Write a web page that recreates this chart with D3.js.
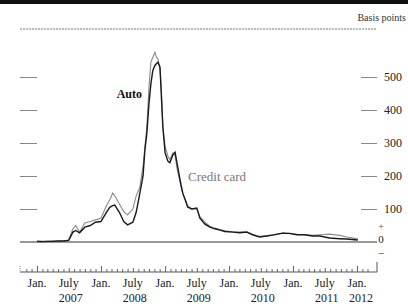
<!DOCTYPE html>
<html>
<head>
<meta charset="utf-8">
<script src="https://cdn.jsdelivr.net/npm/d3@7/dist/d3.min.js"></script>
<style>
  body { margin: 0; background: #fff; }
  svg { display: block; font-family: "Liberation Serif", "DejaVu Serif", serif; }
</style>
</head>
<body>
<svg id="chart" width="408" height="306"></svg>
<script>
// data (basis points)
var dates = ["2007-01-01","2007-02-01","2007-03-01","2007-04-01","2007-05-01","2007-06-01",
  "2007-07-01","2007-07-25","2007-08-10","2007-09-01","2007-10-01","2007-11-01","2007-12-01",
  "2008-01-01","2008-02-01","2008-02-20","2008-03-08","2008-03-20","2008-04-15","2008-05-10",
  "2008-06-01","2008-07-01","2008-07-20","2008-08-10","2008-08-28","2008-09-08","2008-09-19",
  "2008-10-01","2008-10-12","2008-10-23","2008-11-04","2008-11-12","2008-11-21","2008-12-03",
  "2008-12-10","2008-12-19","2009-01-01","2009-01-17","2009-01-28","2009-02-15","2009-02-27",
  "2009-03-13","2009-04-01","2009-04-12","2009-04-28","2009-05-09","2009-06-02","2009-07-01",
  "2009-07-18","2009-08-15","2009-09-13","2009-10-12","2009-11-10","2009-12-08","2010-01-23",
  "2010-03-03","2010-04-12","2010-05-15","2010-06-25","2010-08-03","2010-09-08","2010-11-03",
  "2010-12-13","2011-01-23","2011-03-08","2011-04-23","2011-06-03","2011-07-28","2011-09-25",
  "2011-11-03","2011-12-19","2012-01-06"];
var autoBp = [2,1,2,2,3,3,
  5,30,35,28,45,50,60,
  62,90,105,110,112,90,62,
  52,60,90,148,200,280,330,
  420,480,520,535,540,545,530,
  450,350,270,245,240,265,272,
  230,175,148,125,106,100,103,
  73,55,45,40,36,32,30,
  28,30,22,15,18,21,27,
  26,22,22,18,18,12,10,
  9,7,6];
var creditBp = [3,2,2,3,3,4,
  6,40,50,30,58,62,67,
  72,110,127,148,140,115,92,
  82,100,140,167,230,290,350,
  470,545,560,575,560,555,520,
  470,350,290,260,250,270,260,
  215,170,145,125,110,100,100,
  78,60,48,42,38,34,31,
  30,32,23,17,19,22,27,
  25,23,22,20,22,24,20,
  15,11,9];
var yTicks = [100, 200, 300, 400, 500];
var monthRow = ["Jan.","July","Jan.","July","Jan.","July","Jan.","July","Jan.","July","Jan."];
var monthDates = ["2007-01-01","2007-07-01","2008-01-01","2008-07-01","2009-01-01","2009-07-01",
  "2010-01-01","2010-07-01","2011-01-01","2011-07-01","2012-01-01"];
var yearRow = ["2007","2008","2009","2010","2011","2012"];
var yearDates = ["2007-07-01","2008-07-01","2009-07-01","2010-07-01","2011-07-01","2012-01-01"];

var parse = d3.timeParse("%Y-%m-%d");
var svg = d3.select("#chart");

var x = d3.scaleTime().domain([parse("2007-01-01"), parse("2012-01-01")]).range([37, 357]);
var y = d3.scaleLinear().domain([0, 500]).range([242, 77]);
var left = 20, right = 377;

// top rule
svg.append("rect").attr("x", 0).attr("y", 0).attr("width", 408).attr("height", 4).attr("fill", "#111");
svg.append("text").attr("x", 406).attr("y", 21).attr("text-anchor", "end")
  .attr("font-size", 10).attr("fill", "#333").text("Basis points");
svg.append("line").attr("x1", left).attr("x2", right).attr("y1", 29).attr("y2", 29)
  .attr("stroke", "#777").attr("stroke-dasharray", "2,1");

// left ticks
svg.append("g").attr("transform", "translate(" + left + ",0)")
  .call(d3.axisRight(y).tickValues(yTicks).tickSize(17).tickFormat(""))
  .call(function(g) { g.select(".domain").remove(); g.selectAll("line").attr("stroke", "#888"); });

// right axis
svg.append("g").attr("transform", "translate(" + (right - 16) + ",0)")
  .call(d3.axisRight(y).tickValues(yTicks).tickSize(16).tickPadding(7))
  .call(function(g) {
    g.select(".domain").remove();
    g.selectAll("line").attr("stroke", "#888");
    g.selectAll("text").attr("font-size", 12).attr("fill", "#222").attr("font-family", "Liberation Serif");
  });

// zero line and sign markers
svg.append("line").attr("x1", left).attr("x2", right).attr("y1", y(0)).attr("y2", y(0))
  .attr("stroke", "#333").attr("stroke-width", 1);
var signX = 381;
svg.append("text").attr("x", signX).attr("y", y(0) - 12).attr("text-anchor", "middle")
  .attr("font-size", 10).attr("fill", "#555").text("+");
svg.append("text").attr("x", signX).attr("y", y(0) + 1).attr("text-anchor", "middle")
  .attr("font-size", 11).attr("fill", "#222").text("0");
svg.append("text").attr("x", signX).attr("y", y(0) + 15).attr("text-anchor", "middle")
  .attr("font-size", 11).attr("fill", "#222").text("\u2212");

// series
var lineGen = d3.line().x(function(d) { return x(d[0]); }).y(function(d) { return y(d[1]); });
var creditPts = dates.map(function(d, i) { return [parse(d), creditBp[i]]; });
var autoPts = dates.map(function(d, i) { return [parse(d), autoBp[i]]; });
svg.append("path").attr("d", lineGen(creditPts)).attr("fill", "none")
  .attr("stroke", "#8a8a8a").attr("stroke-width", 1.1);
svg.append("path").attr("d", lineGen(autoPts)).attr("fill", "none")
  .attr("stroke", "#1a1a1a").attr("stroke-width", 1.4);

svg.append("text").attr("x", 142).attr("y", 98).attr("text-anchor", "end")
  .attr("font-size", 12).attr("font-weight", "bold").attr("fill", "#111").text("Auto");
svg.append("text").attr("x", 188).attr("y", 181)
  .attr("font-size", 13).attr("fill", "#777").text("Credit card");

// bottom time axis
var axisY = 272;
var months = d3.timeMonth.range(parse("2006-11-01"), parse("2012-04-01"));
svg.append("g").attr("transform", "translate(0," + axisY + ")")
  .call(d3.axisBottom(x).tickValues(months).tickSizeInner(-3).tickSizeOuter(0).tickFormat(""))
  .call(function(g) {
    g.select(".domain").remove();
    g.selectAll("line").attr("stroke", "#666")
      .attr("y2", function(d) { return d.getMonth() === 0 ? -6 : (d.getMonth() === 6 ? -4 : -3); });
  });
svg.append("line").attr("x1", left).attr("x2", right).attr("y1", axisY).attr("y2", axisY)
  .attr("stroke", "#555");
svg.append("line").attr("x1", left).attr("x2", left).attr("y1", axisY - 6).attr("y2", axisY)
  .attr("stroke", "#888").attr("stroke-dasharray", "1,1");
svg.append("line").attr("x1", right).attr("x2", right).attr("y1", axisY - 10).attr("y2", axisY)
  .attr("stroke", "#555");

svg.selectAll("text.mon").data(monthRow).enter().append("text")
  .attr("class", "mon").attr("x", function(d, i) { return x(parse(monthDates[i])); })
  .attr("y", 287).attr("text-anchor", "middle").attr("font-size", 12).attr("fill", "#222")
  .text(function(d) { return d; });
svg.selectAll("text.yr").data(yearRow).enter().append("text")
  .attr("class", "yr").attr("x", function(d, i) { return x(parse(yearDates[i])) + (i === 5 ? 4 : 2); })
  .attr("y", 302).attr("text-anchor", "middle").attr("font-size", 12).attr("fill", "#222")
  .text(function(d) { return d; });
</script>
</body>
</html>
